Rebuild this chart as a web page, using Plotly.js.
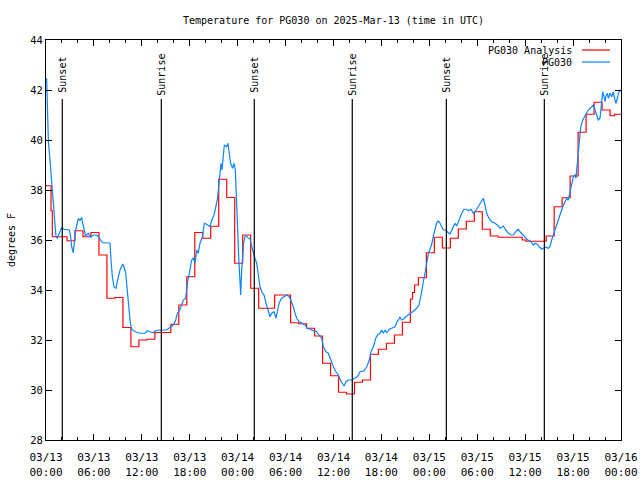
<!DOCTYPE html>
<html>
<head>
<meta charset="utf-8">
<script src="https://cdn.plot.ly/plotly-3.0.1.min.js"></script>
<style>html,body{margin:0;padding:0;background:#fff;}#chart{width:640px;height:480px;}</style>
</head>
<body>
<div id="chart"></div>
<script>
// Hours since 2025-03-13 00:00 UTC
const redHours = [0, 0.63, 0.79, 1.63, 2.63, 3.63, 4.63, 5.63, 6.63, 7.63, 8.63, 9.63, 10.63, 11.63, 12.63, 13.63, 14.63, 15.63, 16.63, 17.63, 18.63, 19.63, 20.63, 21.63, 22.63, 23.63, 24.63, 25.63, 26.63, 27.63, 28.63, 29.63, 30.63, 31.63, 32.63, 33.63, 34.63, 35.63, 36.63, 37.63, 38.63, 39.63, 40.63, 41.63, 42.63, 43.63, 44.63, 45.63, 45.9, 46.15, 46.63, 47.63, 48.63, 49.63, 50.63, 51.63, 52.63, 53.63, 54.63, 55.63, 56.63, 57.63, 58.63, 59.63, 60.1, 60.63, 61.63, 62.63, 63.63, 64.63, 65.63, 66.63, 67.63, 68.63, 69.63, 70.63, 71.2, 72];
const redTemps = [38.17, 37.17, 36.13, 36.13, 35.97, 36.37, 36.13, 36.3, 35.4, 33.67, 33.7, 32.5, 31.73, 32.0, 32.03, 32.3, 32.3, 32.63, 33.4, 34.53, 36.3, 36.07, 36.55, 38.43, 37.7, 35.07, 36.2, 34.07, 33.27, 33.27, 33.8, 33.8, 32.69, 32.65, 32.47, 32.16, 31.07, 30.57, 29.91, 29.84, 30.31, 30.4, 31.43, 31.63, 31.87, 32.2, 32.71, 33.64, 33.9, 34.2, 34.49, 35.49, 36.11, 35.68, 36.07, 36.44, 36.75, 37.13, 36.43, 36.16, 36.11, 36.11, 36.11, 36.0, 35.95, 35.95, 35.95, 36.16, 37.33, 37.69, 38.56, 40.31, 41.03, 41.51, 41.2, 40.97, 41.03, 41.03];

const blueHours = [0.08, 0.17, 0.25, 0.3, 0.5, 0.63, 0.79, 0.92, 1.13, 1.25, 1.42, 1.67, 1.96, 2.25, 2.59, 2.92, 3.09, 3.21, 3.42, 3.55, 3.71, 3.92, 4.05, 4.26, 4.47, 4.59, 4.8, 4.97, 5.09, 5.3, 5.59, 5.93, 6.34, 6.55, 6.97, 7.18, 7.6, 8.01, 8.14, 8.31, 8.51, 8.77, 8.97, 9.27, 9.6, 9.77, 9.98, 10.19, 10.31, 10.52, 10.69, 10.93, 11.36, 11.77, 12.4, 12.69, 13.02, 13.44, 13.65, 14.28, 15.11, 15.53, 15.94, 16.24, 16.45, 16.78, 17.2, 17.49, 17.7, 17.95, 18.24, 18.45, 18.66, 18.87, 19.07, 19.28, 19.58, 19.83, 20.12, 20.54, 20.75, 21.04, 21.29, 21.45, 21.58, 21.79, 21.91, 22.04, 22.21, 22.33, 22.62, 22.79, 22.95, 23.12, 23.37, 23.54, 23.71, 23.88, 24.0, 24.13, 24.29, 24.38, 24.5, 24.63, 24.75, 24.92, 25.13, 25.33, 25.54, 25.76, 25.96, 26.17, 26.38, 26.58, 26.8, 27.01, 27.3, 27.55, 27.84, 28.05, 28.26, 28.55, 28.8, 28.97, 29.21, 29.51, 29.8, 30.14, 30.47, 30.76, 30.97, 31.18, 31.39, 31.72, 32.02, 32.43, 32.72, 33.06, 33.47, 33.89, 34.18, 34.52, 34.73, 35.06, 35.35, 35.65, 35.98, 36.31, 36.6, 36.9, 37.15, 37.32, 37.57, 37.85, 38.26, 38.57, 38.98, 39.32, 39.82, 40.16, 40.49, 40.7, 40.99, 41.29, 41.53, 41.82, 42.03, 42.24, 42.45, 42.66, 42.99, 43.28, 43.7, 43.91, 44.12, 44.33, 44.54, 44.74, 45.04, 45.37, 45.67, 46.08, 46.42, 46.71, 46.96, 47.17, 47.33, 47.46, 47.67, 47.87, 48.08, 48.33, 48.5, 48.71, 48.92, 49.12, 49.34, 49.55, 49.75, 50.09, 50.3, 50.59, 50.8, 51.0, 51.21, 51.43, 51.63, 51.84, 52.05, 52.34, 52.68, 52.88, 53.22, 53.51, 53.72, 54.0, 54.26, 54.55, 54.76, 54.97, 55.18, 55.47, 55.81, 56.22, 56.51, 56.85, 57.27, 57.56, 57.89, 58.23, 58.52, 58.81, 59.14, 59.35, 59.64, 59.98, 60.32, 60.61, 60.82, 61.02, 61.23, 61.52, 61.77, 62.07, 62.28, 62.58, 62.9, 63.11, 63.32, 63.52, 63.82, 64.15, 64.36, 64.7, 64.99, 65.2, 65.4, 65.61, 65.83, 66.03, 66.24, 66.36, 66.53, 66.66, 66.78, 66.96, 67.21, 67.49, 67.71, 67.91, 68.12, 68.33, 68.54, 68.75, 68.96, 69.16, 69.37, 69.58, 69.71, 69.87, 70.0, 70.12, 70.29, 70.42, 70.63, 70.84, 71.04, 71.25, 71.37, 71.54, 71.66, 71.88, 72.0];
const blueTemps = [42.47, 41.07, 40.9, 39.93, 39.2, 38.67, 38.07, 37.4, 36.73, 36.13, 36.07, 36.27, 36.49, 36.43, 36.43, 36.4, 36.13, 35.73, 35.49, 35.8, 36.4, 36.67, 36.87, 36.77, 36.91, 36.67, 36.4, 36.13, 36.2, 36.27, 36.11, 36.2, 36.2, 36.13, 35.93, 35.89, 35.89, 35.87, 35.2, 34.53, 34.13, 34.07, 34.4, 34.8, 35.04, 34.93, 34.67, 34.0, 33.33, 32.8, 32.47, 32.37, 32.31, 32.27, 32.27, 32.37, 32.33, 32.29, 32.37, 32.4, 32.4, 32.51, 32.6, 32.8, 33.07, 33.23, 33.6, 33.67, 34.27, 34.67, 35.2, 35.27, 35.07, 35.6, 35.47, 35.87, 36.13, 36.67, 36.63, 36.53, 36.8, 37.0, 37.33, 37.6, 38.0, 38.73, 39.07, 38.8, 39.47, 39.8, 39.73, 39.87, 39.47, 39.07, 38.87, 39.07, 38.8, 37.73, 36.4, 35.33, 34.0, 33.8, 34.8, 35.47, 35.87, 36.13, 36.16, 36.07, 36.07, 35.73, 35.47, 35.27, 35.07, 34.53, 34.13, 33.93, 33.8, 33.47, 33.13, 32.93, 33.07, 33.13, 32.87, 33.2, 33.49, 33.67, 33.73, 33.8, 33.73, 33.53, 33.33, 33.07, 32.87, 32.73, 32.67, 32.6, 32.47, 32.43, 32.41, 32.33, 32.2, 32.07, 31.73, 31.53, 31.47, 31.2, 30.93, 30.73, 30.6, 30.37, 30.24, 30.16, 30.33, 30.4, 30.4, 30.47, 30.53, 30.73, 30.77, 30.93, 31.2, 31.53, 31.73, 32.07, 32.2, 32.27, 32.4, 32.27, 32.4, 32.29, 32.43, 32.47, 32.53, 32.69, 32.8, 32.91, 32.8, 32.83, 32.93, 33.0, 33.07, 33.17, 33.27, 33.4, 33.8, 34.27, 34.47, 34.67, 35.07, 35.44, 35.63, 35.87, 36.16, 36.47, 36.69, 36.76, 36.67, 36.53, 36.4, 36.4, 36.31, 36.24, 36.4, 36.53, 36.67, 36.56, 36.73, 36.93, 37.07, 37.23, 37.23, 37.17, 37.23, 37.07, 37.13, 37.27, 37.4, 37.6, 37.67, 37.4, 37.07, 36.87, 36.73, 36.67, 36.6, 36.47, 36.56, 36.4, 36.27, 36.2, 36.2, 36.33, 36.43, 36.33, 36.23, 36.13, 36.0, 35.97, 35.89, 35.8, 35.87, 35.83, 35.73, 35.63, 35.67, 35.71, 35.67, 35.73, 36.0, 36.2, 36.47, 36.8, 37.07, 37.33, 37.53, 37.67, 37.6, 37.87, 38.2, 38.53, 38.6, 38.47, 39.07, 39.47, 40.13, 40.53, 40.8, 41.0, 41.09, 41.2, 41.27, 41.33, 41.4, 41.2, 41.0, 40.8, 40.87, 41.6, 41.93, 41.73, 41.53, 41.76, 41.87, 41.67, 41.87, 41.73, 41.93, 41.6, 41.47, 41.67, 41.87, 41.97, 42.0];

const sunHours = [2.04, 14.44, 26.08, 38.35, 50.13, 62.4];
const sunLabels = ['Sunset', 'Sunrise', 'Sunset', 'Sunrise', 'Sunset', 'Sunrise'];

const seriesNames = ['PG030 Analysis', 'PG030'];
const seriesColors = ['#ff0000', '#0a84ff'];
const yTicks = [28, 30, 32, 34, 36, 38, 40, 42, 44];

const BASE = Date.UTC(2025, 2, 13);
function toTime(h) {
  const d = new Date(BASE + Math.round(h * 3600000));
  return d.toISOString().slice(0, 19).replace('T', ' ');
}

const FONT = 'DejaVu Sans Mono, Liberation Mono, monospace';

const traces = [
  {
    x: redHours.map(toTime), y: redTemps, type: 'scatter', mode: 'lines',
    name: seriesNames[0], line: {color: seriesColors[0], width: 1.2, shape: 'hv'},
    showlegend: false, hoverinfo: 'skip'
  },
  {
    x: blueHours.map(toTime), y: blueTemps, type: 'scatter', mode: 'lines',
    name: seriesNames[1], line: {color: seriesColors[1], width: 1.2},
    showlegend: false, hoverinfo: 'skip'
  }
];

const shapes = sunHours.map(h => ({
  type: 'line', xref: 'x', yref: 'paper', x0: toTime(h), x1: toTime(h), y0: 0, y1: 0.8525,
  line: {color: '#000', width: 1.2}
}));
const annotations = sunHours.map((h, i) => ({
  x: toTime(h), xref: 'x', y: 0.914, yref: 'paper', text: sunLabels[i], textangle: -90,
  showarrow: false, xanchor: 'center', yanchor: 'middle', font: {family: FONT, size: 10, color: '#000'}
}));

// legend (text left, line sample right)
const legY = [0.975, 0.945];
seriesNames.forEach((n, i) => {
  annotations.push({x: 0.918, xref: 'paper', y: legY[i], yref: 'paper', text: n, showarrow: false,
    xanchor: 'right', yanchor: 'middle', font: {family: FONT, size: 10, color: '#000'}});
  shapes.push({type: 'line', xref: 'paper', yref: 'paper', x0: 0.932, x1: 0.981, y0: legY[i], y1: legY[i],
    line: {color: seriesColors[i], width: 1.2}});
});

const layout = {
  width: 640, height: 480,
  margin: {l: 46, r: 19, t: 40, b: 40, pad: 0},
  paper_bgcolor: '#fff', plot_bgcolor: '#fff',
  showlegend: false,
  font: {family: FONT, size: 10, color: '#000'},
  title: {text: 'Temperature for PG030 on 2025-Mar-13 (time in UTC)', x: 0.5, xref: 'paper', xanchor: 'center',
    y: 0.958, yref: 'container', yanchor: 'middle', font: {family: FONT, size: 10, color: '#000'}},
  xaxis: {
    type: 'date', range: [toTime(0), toTime(72)],
    tick0: toTime(0), dtick: 6 * 3600000, tickformat: '%m/%d<br>%H:%M',
    ticks: 'inside', ticklen: 6, tickcolor: '#000', tickwidth: 1, ticklabelstandoff: 7,
    minor: {dtick: 2 * 3600000, ticks: 'inside', ticklen: 3, tickcolor: '#000', tickwidth: 1, showgrid: false},
    showline: true, linecolor: '#000', linewidth: 1, mirror: 'ticks',
    showgrid: false, zeroline: false, automargin: false,
    tickfont: {family: FONT, size: 11, color: '#000'}
  },
  yaxis: {
    range: [28, 44], tickvals: yTicks, ticktext: yTicks.map(String),
    ticks: 'inside', ticklen: 6, tickcolor: '#000', tickwidth: 1,
    showline: true, linecolor: '#000', linewidth: 1, mirror: 'ticks',
    showgrid: false, zeroline: false, automargin: false,
    tickfont: {family: FONT, size: 10.5, color: '#000'},
    title: {text: 'degrees F', font: {family: FONT, size: 10, color: '#000'}, standoff: 12}
  },
  shapes: shapes,
  annotations: annotations
};

Plotly.newPlot('chart', traces, layout, {staticPlot: true, displayModeBar: false});
</script>
</body>
</html>
